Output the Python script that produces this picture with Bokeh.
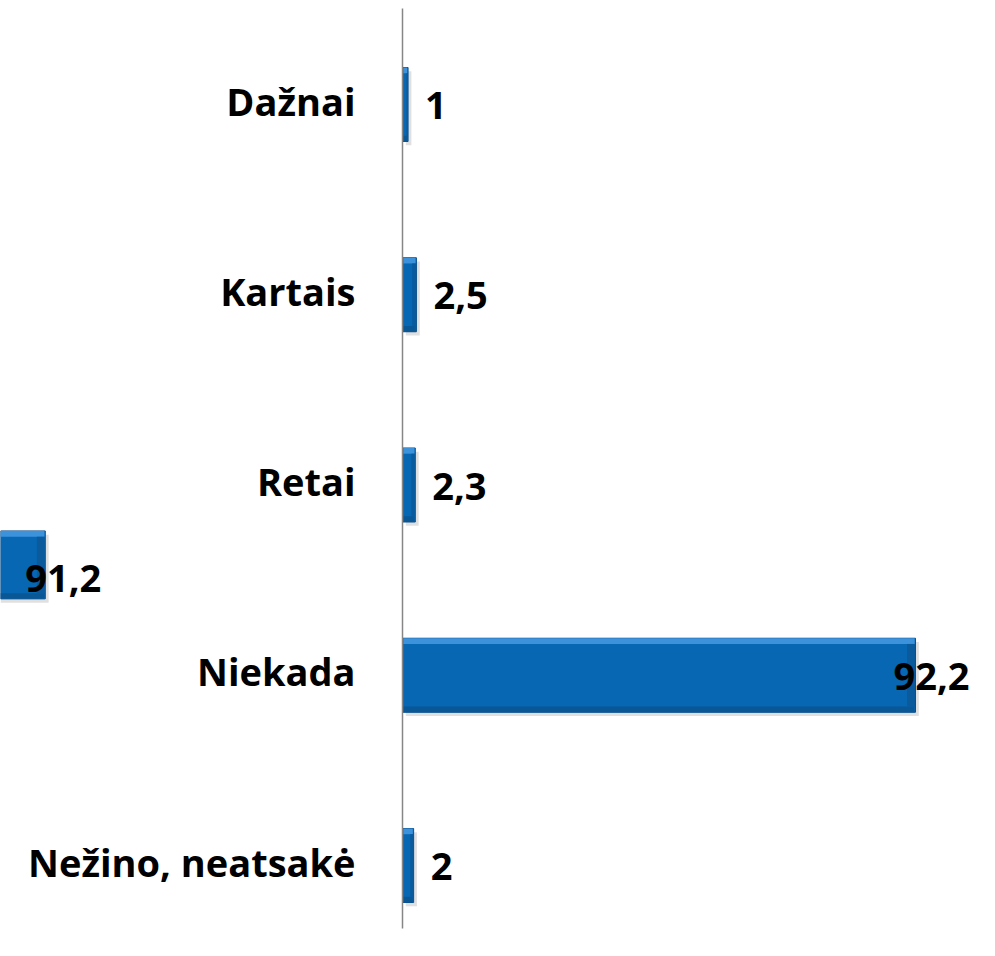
from bokeh.plotting import figure
from bokeh.models import Range1d, ColumnDataSource
from bokeh.core.properties import value
from bokeh.embed import file_html
from bokeh.resources import INLINE

# ---- data ----
categories = ["Dažnai", "Kartais", "Retai", "Niekada", "Nežino, neatsakė"]
values = [1.0, 2.5, 2.3, 92.2, 2.0]
value_labels = ["1", "2,5", "2,3", "92,2", "2"]

# stray bar visible at left edge of the original picture
stray_value = 91.2
stray_label = "91,2"
stray_start = -155.4
stray_pos = 2.42

# ---- layout ----
W, H = 987, 948
PX_PER_UNIT = 5.564
AXIS_PX = 402
BAND_PX = 190.25
FIRST_PX = 104
x_start = -AXIS_PX / PX_PER_UNIT
x_end = (W - AXIS_PX) / PX_PER_UNIT
y_top = -FIRST_PX / BAND_PX
y_bottom = (H - FIRST_PX) / BAND_PX
axis_top = (8 - FIRST_PX) / BAND_PX
axis_bottom = (928 - FIRST_PX) / BAND_PX

p = figure(width=W, height=H, output_backend="svg", toolbar_location=None,
           x_range=Range1d(x_start, x_end), y_range=Range1d(y_bottom, y_top),
           min_border=0, outline_line_color=None)
p.xaxis.visible = False
p.yaxis.visible = False
p.grid.visible = False
p.background_fill_color = "white"
p.border_fill_color = "white"

pos = list(range(len(categories)))
bar_h = 0.389
stray_h = 0.357
bev = 0.03

src = ColumnDataSource(dict(y=pos, v=values, cat=categories, lab=value_labels))

# shadows
p.hbar(y=[y + 0.02 for y in pos], left=[0.6] * len(pos), right=[v + 0.6 for v in values],
       height=bar_h, fill_color="#000000", fill_alpha=0.12, line_color=None)
p.hbar(y=[stray_pos + 0.02], left=[stray_start], right=[stray_start + stray_value + 0.6],
       height=stray_h, fill_color="#000000", fill_alpha=0.12, line_color=None)

# main bars
p.hbar(y="y", left=0, right="v", height=bar_h, source=src,
       fill_color="#0767b3", line_color="#0a4f8c", line_width=1)
p.hbar(y=[stray_pos], left=[stray_start], right=[stray_start + stray_value], height=stray_h,
       fill_color="#0767b3", line_color="#0a4f8c", line_width=1)

# bevel: light top, dark bottom, dark right end
p.hbar(y=[y - bar_h / 2 + bev / 2 for y in pos], left=[0.15] * len(pos),
       right=[v - 0.15 for v in values], height=bev,
       fill_color="#3d92dc", line_color=None)
p.hbar(y=[y + bar_h / 2 - bev / 2 for y in pos], left=[0.15] * len(pos),
       right=[v - 0.15 for v in values], height=bev,
       fill_color="#0a5796", line_color=None)
p.hbar(y=pos, left=[v - min(1.5, v * 0.3) for v in values], right=[v - 0.1 for v in values],
       height=bar_h - 2 * bev, fill_color="#0a5a9c", line_color=None)
p.hbar(y=[stray_pos - stray_h / 2 + bev / 2], left=[stray_start],
       right=[stray_start + stray_value - 0.15], height=bev, fill_color="#3d92dc", line_color=None)
p.hbar(y=[stray_pos + stray_h / 2 - bev / 2], left=[stray_start],
       right=[stray_start + stray_value - 0.15], height=bev, fill_color="#0a5796", line_color=None)
p.hbar(y=[stray_pos], left=[stray_start + stray_value - 1.5], right=[stray_start + stray_value - 0.1],
       height=stray_h - 2 * bev, fill_color="#0a5a9c", line_color=None)

# axis line
p.segment(x0=[0], y0=[axis_top], x1=[0], y1=[axis_bottom], line_color="#868686", line_width=1.5)

FONT = value("Open Sans")
FS = "38px"

# category labels
p.text(x=0, y="y", text="cat", source=src, x_offset=-47, y_offset=-4,
       text_align="right", text_baseline="middle",
       text_font=FONT, text_font_style="bold", text_font_size=FS,
       text_color="#000000")

# value labels: outside end, clamped near the right edge for the long bar
label_off = [-22 if v > 50 else 17 for v in values]
p.text(x=values, y=pos, text=value_labels, x_offset=label_off, y_offset=1,
       text_align="left", text_baseline="middle",
       text_font=FONT, text_font_style="bold", text_font_size=FS,
       text_color="#000000")
p.text(x=[stray_start + stray_value], y=[stray_pos + 0.07], text=[stray_label], x_offset=-20,
       text_align="left", text_baseline="middle",
       text_font=FONT, text_font_style="bold", text_font_size=FS,
       text_color="#000000")

open("out.html", "w").write(file_html(p, INLINE))
